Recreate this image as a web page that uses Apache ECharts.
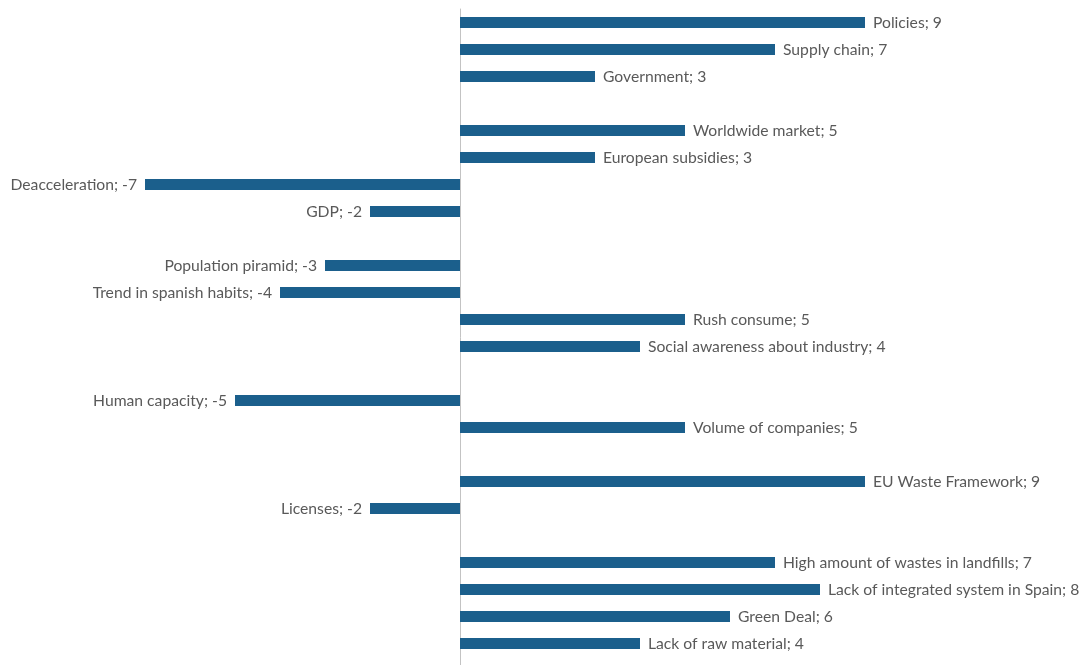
<!DOCTYPE html>
<html>
<head>
<meta charset="utf-8">
<title>Factors</title>
<script src="https://cdn.jsdelivr.net/npm/echarts@6/dist/echarts.min.js"></script>
<style>
  html, body { margin: 0; padding: 0; background: #ffffff; }
  #chart { width: 1083px; height: 665px; }
</style>
</head>
<body>
<div id="chart"></div>
<script>
// Factors listed top to bottom; empty strings are spacer rows between groups.
const categories = [
  'Policies', 'Supply chain', 'Government', '',
  'Worldwide market', 'European subsidies', 'Deacceleration', 'GDP', '',
  'Population piramid', 'Trend in spanish habits', 'Rush consume', 'Social awareness about industry', '',
  'Human capacity', 'Volume of companies', '',
  'EU Waste Framework', 'Licenses', '',
  'High amount of wastes in landfills', 'Lack of integrated system in Spain', 'Green Deal', 'Lack of raw material', ''
];
const values = [
  9, 7, 3, null,
  5, 3, -7, -2, null,
  -3, -4, 5, 4, null,
  -5, 5, null,
  9, -2, null,
  7, 8, 6, 4, null
];

const seriesData = values.map(function (v) {
  if (v === null) return '-';
  return {
    value: v,
    label: { position: v < 0 ? 'left' : 'right' }
  };
});

const chart = echarts.init(document.getElementById('chart'), null, { renderer: 'canvas' });
chart.setOption({
  animation: false,
  backgroundColor: '#ffffff',
  grid: { left: 10, top: 9, width: 900, height: 675, containLabel: false, outerBoundsMode: 'none' },
  xAxis: {
    type: 'value',
    min: -10,
    max: 10,
    show: false
  },
  yAxis: {
    type: 'category',
    data: categories,
    inverse: true,
    axisLine: { show: true, onZero: true, lineStyle: { color: '#c3c3c3', width: 1 } },
    axisTick: { show: false },
    axisLabel: { show: false },
    splitLine: { show: false }
  },
  series: [{
    type: 'bar',
    data: seriesData,
    barWidth: 11,
    itemStyle: { color: '#1b5f8c' },
    label: {
      show: true,
      distance: 8,
      color: '#595959',
      fontFamily: 'Lato',
      fontSize: 15.7,
      formatter: function (p) { return categories[p.dataIndex] + '; ' + p.value; }
    }
  }]
});
</script>
</body>
</html>
